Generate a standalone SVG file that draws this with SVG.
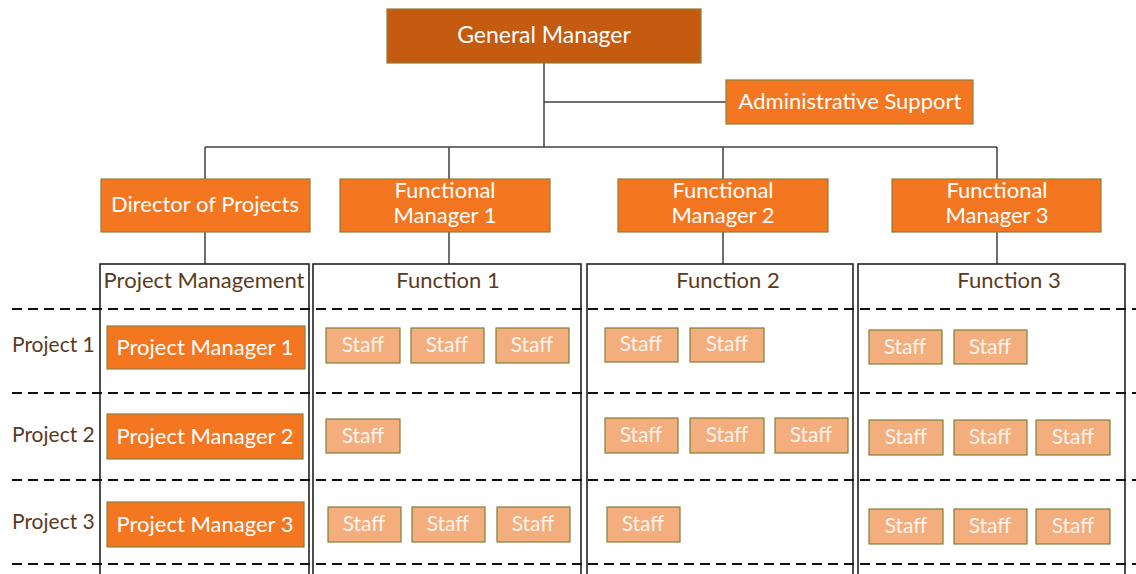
<svg xmlns="http://www.w3.org/2000/svg" width="1136" height="574" viewBox="0 0 1136 574">
  <style>
    text { font-family: Lato, "Open Sans", "Liberation Sans", sans-serif; }
    .gm { fill: #C55A11; stroke: #8C7F3A; stroke-width: 1.2; }
    .mgr { fill: #F47620; stroke: #8C7F3A; stroke-width: 1.2; }
    .staff { fill: #F4AE7E; stroke: #7F7F3A; stroke-width: 1.2; }
    .wt { fill: #FFFFFF; font-size: 22px; text-anchor: middle; }
    .big { font-size: 23px; }
    .st { fill: #FDF3EA; font-size: 21px; text-anchor: middle; }
    .lbl { fill: #5B3A1E; font-size: 21px; }
    .hdr { fill: #5B3A1E; font-size: 22px; text-anchor: middle; }
    .col { fill: none; stroke: #222222; stroke-width: 1.6; }
    .conn { fill: none; stroke: #404040; stroke-width: 1.5; }
    .row { fill: none; stroke: #111111; stroke-width: 2; stroke-dasharray: 10 6; }
  </style>

  <!-- reporting lines -->
  <g id="connectors">
    <path class="conn" d="M544 63 V147"/>
    <path class="conn" d="M544 102 H726"/>
    <path class="conn" d="M205 147 H997"/>
    <path class="conn" d="M205 147 V179 M449 147 V179 M723 147 V179 M997 147 V179"/>
    <path class="conn" d="M205 232 V264 M449 232 V264 M723 232 V264 M997 232 V264"/>
  </g>

  <!-- column frames -->
  <g id="columns">
    <rect class="col" x="100" y="264" width="209" height="320"/>
    <rect class="col" x="313" y="264" width="268" height="320"/>
    <rect class="col" x="587" y="264" width="266" height="320"/>
    <rect class="col" x="858" y="264" width="267" height="320"/>
  </g>

  <!-- project row separators -->
  <g id="rows">
    <line class="row" x1="12" y1="309" x2="1136" y2="309"/>
    <line class="row" x1="12" y1="393" x2="1136" y2="393"/>
    <line class="row" x1="12" y1="480" x2="1136" y2="480"/>
    <line class="row" x1="12" y1="564" x2="1136" y2="564"/>
  </g>

  <g id="general-manager">
    <rect class="gm" x="387" y="9" width="314" height="54"/>
    <text class="wt big" x="544" y="43">General Manager</text>
  </g>
  <g id="admin-support">
    <rect class="mgr" x="726" y="80" width="247" height="44"/>
    <text class="wt" x="850" y="109">Administrative Support</text>
  </g>
  <g id="director">
    <rect class="mgr" x="101" y="179" width="209" height="53"/>
    <text class="wt" x="205" y="212">Director of Projects</text>
  </g>
  <g id="fm1">
    <rect class="mgr" x="340" y="179" width="210" height="53"/>
    <text class="wt" x="445" y="198">Functional</text>
    <text class="wt" x="445" y="223">Manager 1</text>
  </g>
  <g id="fm2">
    <rect class="mgr" x="618" y="179" width="210" height="53"/>
    <text class="wt" x="723" y="198">Functional</text>
    <text class="wt" x="723" y="223">Manager 2</text>
  </g>
  <g id="fm3">
    <rect class="mgr" x="892" y="179" width="209" height="53"/>
    <text class="wt" x="997" y="198">Functional</text>
    <text class="wt" x="997" y="223">Manager 3</text>
  </g>

  <!-- column headings -->
  <g id="headers">
    <text class="hdr" x="204" y="288">Project Management</text>
    <text class="hdr" x="448" y="288">Function 1</text>
    <text class="hdr" x="728" y="288">Function 2</text>
    <text class="hdr" x="1009" y="288">Function 3</text>
  </g>

  <!-- row labels -->
  <g id="row-labels">
    <text class="lbl" x="12" y="352">Project 1</text>
    <text class="lbl" x="12" y="442">Project 2</text>
    <text class="lbl" x="12" y="529">Project 3</text>
  </g>

  <g id="pm1">
    <rect class="mgr" x="107" y="326" width="198" height="43"/>
    <text class="wt" x="205" y="355">Project Manager 1</text>
  </g>
  <g id="pm2">
    <rect class="mgr" x="107" y="414" width="196" height="45"/>
    <text class="wt" x="205" y="444">Project Manager 2</text>
  </g>
  <g id="pm3">
    <rect class="mgr" x="107" y="502" width="197" height="45"/>
    <text class="wt" x="205" y="532">Project Manager 3</text>
  </g>

  <!-- staff assignments -->
  <g id="staff-f1">
    <rect class="staff" x="326" y="328" width="74" height="35"/><text class="st" x="363" y="352">Staff</text>
    <rect class="staff" x="411" y="328" width="73" height="35"/><text class="st" x="447" y="352">Staff</text>
    <rect class="staff" x="496" y="328" width="73" height="35"/><text class="st" x="532" y="352">Staff</text>
    <rect class="staff" x="326" y="419" width="74" height="34"/><text class="st" x="363" y="443">Staff</text>
    <rect class="staff" x="328" y="507" width="73" height="35"/><text class="st" x="364" y="531">Staff</text>
    <rect class="staff" x="412" y="507" width="73" height="35"/><text class="st" x="448" y="531">Staff</text>
    <rect class="staff" x="497" y="507" width="73" height="35"/><text class="st" x="533" y="531">Staff</text>
  </g>
  <g id="staff-f2">
    <rect class="staff" x="605" y="328" width="73" height="34"/><text class="st" x="641" y="351">Staff</text>
    <rect class="staff" x="690" y="328" width="74" height="34"/><text class="st" x="727" y="351">Staff</text>
    <rect class="staff" x="605" y="418" width="73" height="35"/><text class="st" x="641" y="442">Staff</text>
    <rect class="staff" x="690" y="418" width="74" height="35"/><text class="st" x="727" y="442">Staff</text>
    <rect class="staff" x="775" y="418" width="73" height="35"/><text class="st" x="811" y="442">Staff</text>
    <rect class="staff" x="607" y="507" width="73" height="35"/><text class="st" x="643" y="531">Staff</text>
  </g>
  <g id="staff-f3">
    <rect class="staff" x="869" y="330" width="73" height="34"/><text class="st" x="905" y="354">Staff</text>
    <rect class="staff" x="954" y="330" width="73" height="34"/><text class="st" x="990" y="354">Staff</text>
    <rect class="staff" x="869" y="420" width="74" height="35"/><text class="st" x="906" y="444">Staff</text>
    <rect class="staff" x="954" y="420" width="73" height="35"/><text class="st" x="990" y="444">Staff</text>
    <rect class="staff" x="1036" y="420" width="74" height="35"/><text class="st" x="1073" y="444">Staff</text>
    <rect class="staff" x="869" y="509" width="74" height="35"/><text class="st" x="906" y="533">Staff</text>
    <rect class="staff" x="954" y="509" width="73" height="35"/><text class="st" x="990" y="533">Staff</text>
    <rect class="staff" x="1036" y="509" width="74" height="35"/><text class="st" x="1073" y="533">Staff</text>
  </g>
</svg>
